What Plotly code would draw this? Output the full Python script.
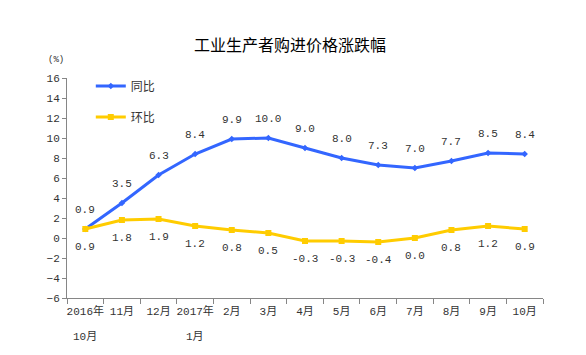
import plotly.graph_objects as go

title = "工业生产者购进价格涨跌幅"
cats = ["2016年", "11月", "12月", "2017年", "2月", "3月", "4月", "5月", "6月", "7月", "8月", "9月", "10月"]
cats_line2 = ["10月", "", "", "1月", "", "", "", "", "", "", "", "", ""]
yoy = [0.9, 3.5, 6.3, 8.4, 9.9, 10.0, 9.0, 8.0, 7.3, 7.0, 7.7, 8.5, 8.4]
mom = [0.9, 1.8, 1.9, 1.2, 0.8, 0.5, -0.3, -0.3, -0.4, 0.0, 0.8, 1.2, 0.9]
yticks = list(range(-6, 17, 2))

NUM_FONT = "Liberation Mono, Noto Sans CJK SC"
BLUE = "#3366FF"
YELLOW = "#FFCC00"
AXIS = "#868686"
TXT = "#333333"

fig = go.Figure()
fig.add_trace(go.Scatter(
    x=cats, y=yoy, mode="lines+markers", name="同比", legendgroup="a",
    line=dict(color=BLUE, width=3), marker=dict(symbol="diamond", size=5, color=BLUE)))
fig.add_trace(go.Scatter(
    x=cats, y=mom, mode="lines+markers", name="环比", legendgroup="b",
    line=dict(color=YELLOW, width=3), marker=dict(symbol="square", size=6, color=YELLOW)))

ann = []
for c, v in zip(cats, yoy):
    ann.append(dict(x=c, y=v, xref="x", yref="y", text=f"{v:.1f}", showarrow=False,
                    yshift=19, font=dict(family=NUM_FONT, size=11, color=TXT)))
for c, v in zip(cats, mom):
    ann.append(dict(x=c, y=v, xref="x", yref="y", text=f"{v:.1f}", showarrow=False,
                    yshift=-18, font=dict(family=NUM_FONT, size=11, color=TXT)))
for c, t in zip(cats, cats_line2):
    if t:
        ann.append(dict(x=c, y=-0.175, xref="x", yref="paper", text=t, showarrow=False,
                        yanchor="middle", font=dict(family=NUM_FONT, size=11, color=TXT)))
ann.append(dict(x=-0.002, y=1.08, xref="paper", yref="paper", text="(%)", showarrow=False,
                xanchor="right", yanchor="middle", font=dict(family=NUM_FONT, size=9, color=TXT)))

fig.update_layout(
    width=578, height=347,
    margin=dict(l=59, r=43, t=70, b=57, autoexpand=False),
    paper_bgcolor="white", plot_bgcolor="white",
    title=dict(text=title, x=0.488, xanchor="center", y=0.8934, yanchor="middle", yref="container",
               font=dict(family="Noto Sans CJK SC", size=16, color="black")),
    showlegend=True,
    legend=dict(x=0.05, y=1.03, xanchor="left", yanchor="top", tracegroupgap=12,
                bgcolor="rgba(0,0,0,0)", font=dict(family="Noto Sans CJK SC", size=12, color=TXT)),
    annotations=ann,
    xaxis=dict(type="category", tickson="boundaries", showline=True, linecolor=AXIS, linewidth=1,
               ticks="outside", ticklen=5, tickcolor=AXIS, showgrid=False, zeroline=False,
               tickangle=0, automargin=False, ticklabelstandoff=3,
               tickfont=dict(family=NUM_FONT, size=11, color=TXT), range=[-0.5, 12.5]),
    yaxis=dict(range=[-6, 16], tickvals=yticks, showline=True, linecolor=AXIS, linewidth=1,
               ticks="outside", ticklen=4, tickcolor=AXIS, showgrid=False, zeroline=False,
               automargin=False,
               tickfont=dict(family=NUM_FONT, size=11, color=TXT)),
)
fig.write_html("out.html")
